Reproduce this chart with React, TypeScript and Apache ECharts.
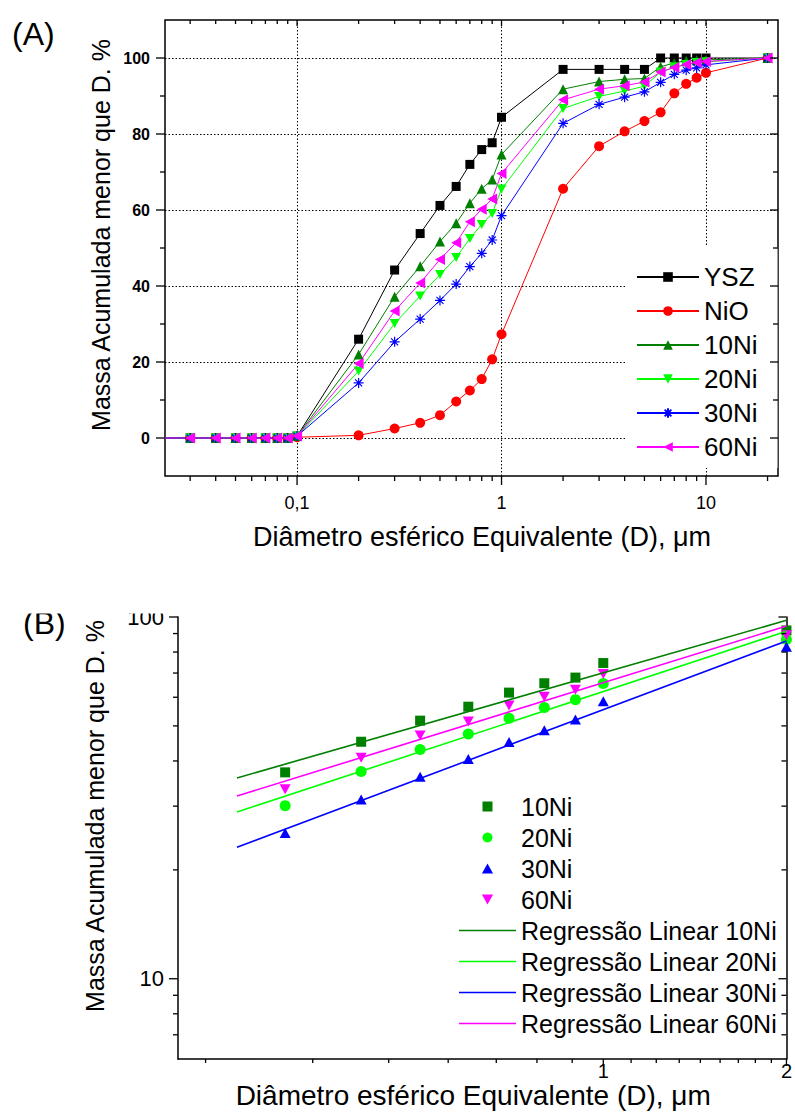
import React, { useEffect, useRef } from 'react';
import * as echarts from 'echarts';

// ---------- Panel A data ----------
const diameters = [0.02, 0.03, 0.04, 0.05, 0.06, 0.07, 0.08, 0.09, 0.1, 0.2, 0.3, 0.4, 0.5, 0.6, 0.7, 0.8, 0.9, 1, 2, 3, 4, 5, 6, 7, 8, 9, 10, 20];
const ysz = [0, 0, 0, 0, 0, 0, 0, 0, 0.5, 26.0, 44.2, 53.8, 61.2, 66.2, 72.0, 75.9, 77.7, 84.4, 97.0, 97.0, 97.0, 97.0, 100, 100, 100, 100, 100, 100];
const nio = [0, 0, 0, 0, 0, 0, 0, 0, 0.2, 0.7, 2.5, 4.0, 6.0, 9.6, 12.5, 15.5, 20.7, 27.3, 65.6, 76.8, 80.7, 83.4, 85.7, 90.7, 93.2, 94.8, 96.1, 100];
const ni10 = [0, 0, 0, 0, 0, 0, 0, 0, 0.5, 22.0, 37.2, 45.2, 51.7, 56.5, 61.8, 65.6, 68.0, 74.6, 91.8, 93.8, 94.4, 94.6, 97.7, 98.7, 99.3, 99.4, 99.5, 100];
const ni20 = [0, 0, 0, 0, 0, 0, 0, 0, 0.5, 17.6, 30.1, 37.4, 43.0, 47.5, 52.5, 56.2, 59.1, 65.5, 86.7, 89.9, 91.3, 92.6, 96.3, 97.6, 98.3, 98.8, 99.0, 100];
const ni30 = [0, 0, 0, 0, 0, 0, 0, 0, 0.5, 14.5, 25.3, 31.3, 36.2, 40.5, 45.1, 48.6, 52.1, 58.5, 82.8, 87.8, 89.7, 91.1, 93.6, 95.7, 96.8, 97.4, 98.2, 100];
const ni60 = [0, 0, 0, 0, 0, 0, 0, 0, 0.5, 19.6, 33.4, 40.8, 47.0, 51.4, 56.9, 60.2, 62.9, 69.6, 89.0, 91.8, 92.7, 93.7, 96.3, 97.5, 98.3, 98.8, 99.1, 100];

const xLabelValuesA = [0.1, 1, 10];
const xLabelTextsA = ['0,1', '1', '10'];
const xMajorTicksA = [0.1, 1, 10];
const xMinorTicksA = [0.03, 0.04, 0.05, 0.06, 0.07, 0.08, 0.09, 0.2, 0.3, 0.4, 0.5, 0.6, 0.7, 0.8, 0.9, 2, 3, 4, 5, 6, 7, 8, 9, 20];
const yMajorTicksA = [0, 20, 40, 60, 80, 100];
const yMinorTicksA = [10, 30, 50, 70, 90];
const gridXA = [0.1, 1, 10];
const gridYA = [0, 20, 40, 60, 80, 100];

// ---------- Panel B data ----------
const diametersB = [0.3, 0.4, 0.5, 0.6, 0.7, 0.8, 0.9, 1, 2];
const fit10 = [[0.25, 35.9], [2, 97.9]];
const fit20 = [[0.25, 28.9], [2, 91.3]];
const fit30 = [[0.25, 23.1], [2, 85.9]];
const fit60 = [[0.25, 32.0], [2, 94.4]];
const xLabelValuesB = [1, 2];
const xLabelTextsB = ['1', '2'];
const yLabelValuesB = [10, 100];
const yLabelTextsB = ['10', '100'];
const xMajorTicksB = [1, 2];
const xMinorTicksB = [0.222, 0.333, 0.444, 0.556, 0.667, 0.778, 0.889, 1.111, 1.222, 1.333, 1.444, 1.556, 1.667, 1.778, 1.889];
const yMajorTicksB = [10, 100];
const yMinorTicksB = [7, 8, 9, 20, 30, 40, 50, 60, 70, 80, 90];

const FONT = '"Liberation Sans", Arial, Helvetica, sans-serif';
const C_YSZ = '#000000';
const C_NIO = '#ff0000';
const C_10 = '#007f00';
const C_20 = '#00ff00';
const C_30 = '#0000ff';
const C_60 = '#ff00ff';

const SYM_SQUARE = 'path://M0,0L10,0L10,10L0,10Z';
const SYM_UP = 'path://M5,0L10,9L0,9Z';
const SYM_DOWN = 'path://M0,0L10,0L5,9Z';
const SYM_LEFT = 'path://M0,5.5L10,0L10,11Z';
const SYM_STAR = 'path://M5,0L5,10M0,5L10,5M1.5,1.5L8.5,8.5M1.5,8.5L8.5,1.5M4,4L6,4L6,6L4,6Z';
const LINE_ICON = 'path://M0,0L57,0L57,1.6L0,1.6Z';

const near = (a: number, b: number) => Math.abs(Math.log10(a) - Math.log10(b)) < 1e-4;
const labelFmt = (vals: number[], texts: string[]) => (v: number) => {
  const i = vals.findIndex((t) => near(v, t));
  return i >= 0 ? texts[i] : '';
};

const pairs = (ys: number[]) => diameters.map((d, i) => [d, ys[i]]);
const pairsB = (ys: number[]) => diametersB.map((d) => [d, ys[diameters.indexOf(d)]]);

type Len = { outMajor: number; outMinor: number; inMajor: number; inMinor: number };
function tickSeries(kind: 'x' | 'y', xIdx: number, yIdx: number, major: number[], minor: number[], ref: number, len: Len) {
  const mk = (v: number, m: number) => (kind === 'x' ? [v, ref, m] : [ref, v, m]);
  const data = [...major.map((v) => mk(v, 1)), ...minor.map((v) => mk(v, 0))];
  return {
    type: 'custom',
    xAxisIndex: xIdx,
    yAxisIndex: yIdx,
    silent: true,
    z: 10,
    data,
    encode: { x: 0, y: 1 },
    renderItem: (params: any, api: any) => {
      const cs = params.coordSys;
      const isMajor = api.value(2) === 1;
      const p = api.coord([api.value(0), api.value(1)]);
      const out = isMajor ? len.outMajor : len.outMinor;
      const inn = isMajor ? len.inMajor : len.inMinor;
      const st = { stroke: '#000', lineWidth: 1.3 };
      const children: any[] = [];
      if (kind === 'x') {
        const x = p[0];
        const b = cs.y + cs.height;
        const t = cs.y;
        children.push({ type: 'line', shape: { x1: x, y1: b, x2: x, y2: b + out }, style: st });
        if (inn > 0) children.push({ type: 'line', shape: { x1: x, y1: t, x2: x, y2: t + inn }, style: st });
      } else {
        const y = p[1];
        const l = cs.x;
        const r = cs.x + cs.width;
        children.push({ type: 'line', shape: { x1: l, y1: y, x2: l - out, y2: y }, style: st });
        if (inn > 0) children.push({ type: 'line', shape: { x1: r, y1: y, x2: r - inn, y2: y }, style: st });
      }
      return { type: 'group', children };
    },
  };
}

const lineA = (name: string, ys: number[], color: string, symbol: string, size: any, extra: any = {}) => ({
  name,
  type: 'line',
  xAxisIndex: 0,
  yAxisIndex: 0,
  data: pairs(ys),
  symbol,
  symbolSize: size,
  showSymbol: true,
  color,
  lineStyle: { color, width: 1 },
  itemStyle: { color, borderWidth: 0 },
  ...extra,
});

const scatterB = (name: string, ys: number[], color: string, symbol: string, size: any) => ({
  name,
  type: 'scatter',
  xAxisIndex: 1,
  yAxisIndex: 1,
  data: pairsB(ys),
  symbol,
  symbolSize: size,
  color,
  itemStyle: { color, opacity: 1 },
  clip: true,
});

const fitB = (name: string, pts: number[][], color: string) => ({
  name,
  type: 'line',
  xAxisIndex: 1,
  yAxisIndex: 1,
  data: pts,
  symbol: 'none',
  color,
  lineStyle: { color, width: 1.6 },
  itemStyle: { color },
});

const option: any = {
  animation: false,
  backgroundColor: '#ffffff',
  textStyle: { fontFamily: FONT, color: '#000' },
  grid: [
    { left: 165, top: 20, width: 613, height: 456, show: true, borderColor: '#000', borderWidth: 1.5, backgroundColor: 'rgba(0,0,0,0)' },
    { left: 178, top: 617, width: 611, height: 442 },
  ],
  xAxis: [
    {
      type: 'log', gridIndex: 0, min: 0.0226, max: 22.5,
      axisLine: { show: false }, axisTick: { show: false }, splitLine: { show: false },
      axisLabel: { formatter: labelFmt(xLabelValuesA, xLabelTextsA), fontSize: 18, color: '#000', margin: 18, fontFamily: FONT },
      name: 'Diâmetro esférico Equivalente (D), μm', nameLocation: 'middle', nameGap: 47,
      nameTextStyle: { fontSize: 27, color: '#000', fontFamily: FONT, padding: [0, 0, 0, 21] },
    },
    {
      type: 'log', gridIndex: 1, min: 0.2, max: 2,
      axisLine: { show: true, onZero: false, lineStyle: { color: '#000', width: 1.5 } }, axisTick: { show: false }, splitLine: { show: false },
      axisLabel: { formatter: labelFmt(xLabelValuesB, xLabelTextsB), fontSize: 20, color: '#000', margin: 2, showMinLabel: false, showMaxLabel: true, fontFamily: FONT },
      name: 'Diâmetro esférico Equivalente (D), μm', nameLocation: 'middle', nameGap: 18,
      nameTextStyle: { fontSize: 28, color: '#000', fontFamily: FONT, padding: [0, 18, 0, 0] },
    },
  ],
  yAxis: [
    {
      type: 'value', gridIndex: 0, min: -10, max: 110, interval: 10,
      axisLine: { show: false }, axisTick: { show: false }, splitLine: { show: false },
      axisLabel: {
        formatter: (v: number) => (v >= 0 && v <= 100 && v % 20 === 0 ? String(v) : ''),
        fontSize: 16, fontWeight: 'bold', color: '#000', margin: 15, fontFamily: FONT,
      },
    },
    {
      type: 'log', gridIndex: 1, min: 6, max: 100,
      axisLine: { show: true, onZero: false, lineStyle: { color: '#000', width: 1.5 } }, axisTick: { show: false }, splitLine: { show: false },
      axisLabel: { formatter: labelFmt(yLabelValuesB, yLabelTextsB), fontSize: 22, color: '#000', margin: 14, showMinLabel: false, showMaxLabel: true, fontFamily: FONT },
    },
    {
      type: 'log', gridIndex: 1, min: 6, max: 100, position: 'right',
      axisLine: { show: true, onZero: false, lineStyle: { color: '#000', width: 1.5 } }, axisTick: { show: false }, splitLine: { show: false },
      axisLabel: { show: false },
    },
  ],
  legend: [
    {
      orient: 'vertical', left: 625, top: 247, padding: [17, 20, 8, 11], backgroundColor: '#ffffff',
      itemWidth: 62, itemHeight: 12, itemGap: 8,
      textStyle: { fontSize: 26, color: '#000', fontFamily: FONT },
      data: ['YSZ', 'NiO', '10Ni', '20Ni', '30Ni', '60Ni'],
      selectedMode: false,
    },
    {
      orient: 'vertical', left: 459, top: 794, padding: 0,
      itemWidth: 57, itemHeight: 10, itemGap: 6,
      textStyle: { fontSize: 25, color: '#000', fontFamily: FONT },
      formatter: (n: string) => n.trim(),
      data: [
        '10Ni ', '20Ni ', '30Ni ', '60Ni ',
        { name: 'Regressão Linear 10Ni', icon: LINE_ICON },
        { name: 'Regressão Linear 20Ni', icon: LINE_ICON },
        { name: 'Regressão Linear 30Ni', icon: LINE_ICON },
        { name: 'Regressão Linear 60Ni', icon: LINE_ICON },
      ],
      selectedMode: false,
    },
  ],
  graphic: [
    { type: 'text', x: 12, y: 34, z: 50, style: { text: '(A)', font: `32px ${FONT}`, fill: '#000', textAlign: 'left', textVerticalAlign: 'middle' } },
    { type: 'text', x: 23, y: 623, z: 50, style: { text: '(B)', font: `32px ${FONT}`, fill: '#000', textAlign: 'left', textVerticalAlign: 'middle' } },
    { type: 'text', x: 101, y: 235, rotation: Math.PI / 2, z: 50, style: { text: 'Massa Acumulada menor que D. %', font: `25px ${FONT}`, fill: '#000', textAlign: 'center', textVerticalAlign: 'middle' } },
    { type: 'text', x: 95, y: 816, rotation: Math.PI / 2, z: 50, style: { text: 'Massa Acumulada menor que D. %', font: `25px ${FONT}`, fill: '#000', textAlign: 'center', textVerticalAlign: 'middle' } },
    { type: 'rect', z: 100, shape: { x: 0, y: 562, width: 795, height: 51.5 }, style: { fill: '#ffffff' } },
  ],
  series: [
    lineA('YSZ', ysz, C_YSZ, 'rect', 9, {
      markLine: {
        silent: true, symbol: ['none', 'none'], z: 1, label: { show: false },
        lineStyle: { type: [1.5, 2], color: '#000', width: 1 },
        emphasis: { disabled: true },
        data: [...gridYA.map((v) => ({ yAxis: v })), ...gridXA.map((v) => ({ xAxis: v }))],
      },
    }),
    lineA('NiO', nio, C_NIO, 'circle', 10),
    lineA('10Ni', ni10, C_10, 'triangle', 10),
    lineA('20Ni', ni20, C_20, SYM_DOWN, [10, 9]),
    lineA('30Ni', ni30, C_30, SYM_STAR, 10, { itemStyle: { color: C_30, borderColor: C_30, borderWidth: 1.2 } }),
    lineA('60Ni', ni60, C_60, SYM_LEFT, [10, 11]),
    tickSeries('x', 0, 0, xMajorTicksA, xMinorTicksA, 0, { outMajor: 9, outMinor: 5, inMajor: 6, inMinor: 4 }),
    tickSeries('y', 0, 0, yMajorTicksA, yMinorTicksA, 1, { outMajor: 9, outMinor: 5, inMajor: 8, inMinor: 5 }),
    scatterB('10Ni ', ni10, C_10, SYM_SQUARE, 10),
    scatterB('20Ni ', ni20, C_20, 'circle', 11),
    scatterB('30Ni ', ni30, C_30, SYM_UP, [11, 10]),
    scatterB('60Ni ', ni60, C_60, SYM_DOWN, [11, 10]),
    fitB('Regressão Linear 10Ni', fit10, C_10),
    fitB('Regressão Linear 20Ni', fit20, C_20),
    fitB('Regressão Linear 30Ni', fit30, C_30),
    fitB('Regressão Linear 60Ni', fit60, C_60),
    tickSeries('x', 1, 1, xMajorTicksB, xMinorTicksB, 10, { outMajor: 7, outMinor: 4, inMajor: 0, inMinor: 0 }),
    tickSeries('y', 1, 1, yMajorTicksB, yMinorTicksB, 1, { outMajor: 9, outMinor: 5, inMajor: 8, inMinor: 5 }),
  ],
};

export default function App() {
  const ref = useRef<HTMLDivElement>(null);
  useEffect(() => {
    const chart = echarts.init(ref.current!, null, { renderer: 'svg' });
    chart.setOption(option);
    return () => chart.dispose();
  }, []);
  return (
    <div
      ref={ref}
      style={{ position: 'absolute', left: 0, top: 0, width: 795, height: 1120, background: '#fff' }}
    />
  );
}
